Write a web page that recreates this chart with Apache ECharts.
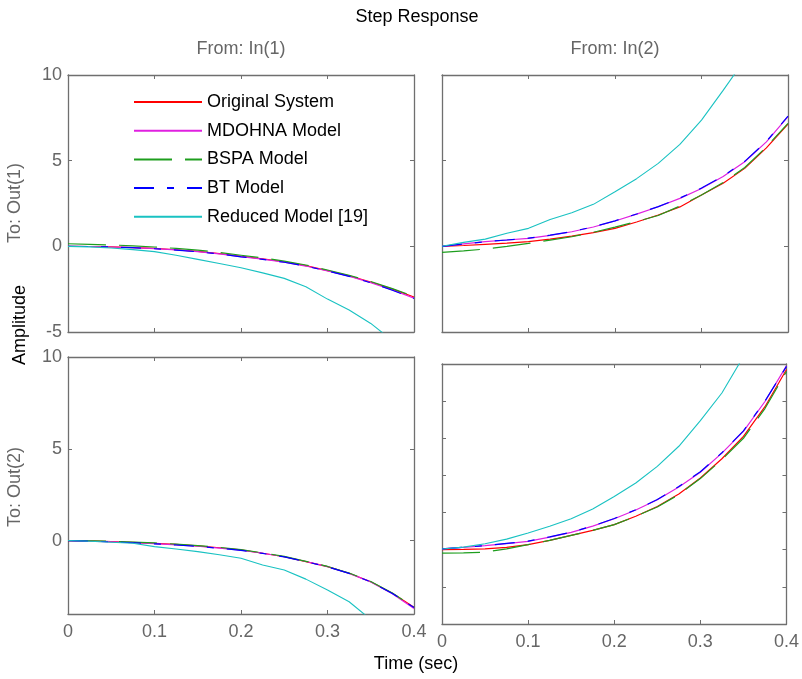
<!DOCTYPE html>
<html>
<head>
<meta charset="utf-8">
<script src="https://cdn.jsdelivr.net/npm/echarts@6/dist/echarts.min.js"></script>
<style>html,body{margin:0;padding:0;background:#fff;}#c{width:802px;height:679px;}</style>
</head>
<body>
<div id="c"></div>
<script>
// ---- data ----
const seriesNames = ['Original System', 'MDOHNA Model', 'BSPA Model', 'BT Model', 'Reduced Model [19]'];
const timeSec = [0, 0.025, 0.05, 0.075, 0.1, 0.125, 0.15, 0.175, 0.2, 0.225, 0.25, 0.275, 0.3, 0.325, 0.35, 0.375, 0.4];
const xTicks = [0, 0.1, 0.2, 0.3, 0.4];

// To: Out(1), From: In(1)
const o1i1Orig    = [0, -0.01, -0.03, -0.07, -0.12, -0.2, -0.29, -0.42, -0.58, -0.73, -0.9, -1.13, -1.42, -1.72, -2.08, -2.5, -2.96];
const o1i1Mdohna  = [0, -0.01, -0.04, -0.08, -0.13, -0.21, -0.31, -0.44, -0.6, -0.75, -0.92, -1.15, -1.43, -1.74, -2.12, -2.55, -3.02];
const o1i1Bspa    = [0.15, 0.12, 0.08, 0.03, -0.04, -0.12, -0.22, -0.36, -0.52, -0.68, -0.86, -1.09, -1.38, -1.69, -2.05, -2.47, -2.92];
const o1i1Bt      = [0, -0.01, -0.04, -0.08, -0.14, -0.22, -0.32, -0.45, -0.61, -0.76, -0.93, -1.16, -1.44, -1.75, -2.13, -2.56, -3.04];
const o1i1Reduced = [0, -0.03, -0.1, -0.19, -0.31, -0.52, -0.76, -1.0, -1.25, -1.55, -1.87, -2.36, -3.08, -3.72, -4.5, -5.5, -6.6];

// To: Out(1), From: In(2)
const o1i2Orig    = [0, 0.05, 0.12, 0.19, 0.27, 0.42, 0.6, 0.8, 1.05, 1.42, 1.83, 2.3, 3.0, 3.68, 4.55, 5.75, 7.14];
const o1i2Mdohna  = [0, 0.14, 0.27, 0.37, 0.47, 0.64, 0.85, 1.13, 1.48, 1.88, 2.31, 2.8, 3.38, 4.08, 4.94, 6.1, 7.57];
const o1i2Bspa    = [-0.35, -0.26, -0.16, 0.0, 0.17, 0.36, 0.56, 0.82, 1.12, 1.45, 1.8, 2.35, 3.0, 3.72, 4.6, 5.8, 7.18];
const o1i2Bt      = [0, 0.14, 0.27, 0.37, 0.48, 0.65, 0.86, 1.14, 1.49, 1.89, 2.32, 2.82, 3.4, 4.1, 4.96, 6.12, 7.6];
const o1i2Reduced = [0, 0.23, 0.42, 0.76, 1.05, 1.57, 1.96, 2.45, 3.19, 3.95, 4.84, 5.95, 7.37, 9.1, 10.9, 13.0, 15.5];

// To: Out(2), From: In(1)
const o2i1Orig    = [0, -0.02, -0.06, -0.1, -0.15, -0.21, -0.29, -0.39, -0.51, -0.69, -0.88, -1.15, -1.42, -1.78, -2.24, -2.87, -3.63];
const o2i1Mdohna  = [0, -0.03, -0.07, -0.11, -0.17, -0.23, -0.31, -0.41, -0.52, -0.69, -0.88, -1.14, -1.42, -1.79, -2.25, -2.9, -3.7];
const o2i1Bspa    = [0, -0.01, -0.04, -0.08, -0.13, -0.19, -0.27, -0.37, -0.49, -0.67, -0.86, -1.13, -1.41, -1.77, -2.23, -2.86, -3.62];
const o2i1Bt      = [0, -0.03, -0.07, -0.12, -0.18, -0.24, -0.32, -0.42, -0.53, -0.7, -0.89, -1.15, -1.43, -1.79, -2.25, -2.88, -3.65];
const o2i1Reduced = [0, -0.04, -0.09, -0.15, -0.33, -0.46, -0.6, -0.77, -0.96, -1.33, -1.6, -2.1, -2.69, -3.33, -4.3, -5.2, -6.2];

// To: Out(2), From: In(2)
const o2i2Orig    = [0, 0.02, 0.05, 0.13, 0.27, 0.5, 0.77, 1.04, 1.35, 1.8, 2.33, 3.0, 3.86, 4.9, 6.1, 7.7, 9.7];
const o2i2Mdohna  = [0.04, 0.13, 0.22, 0.33, 0.45, 0.68, 0.93, 1.27, 1.67, 2.14, 2.69, 3.38, 4.17, 5.2, 6.37, 7.98, 9.9];
const o2i2Bspa    = [-0.18, -0.17, -0.13, 0.05, 0.27, 0.5, 0.77, 1.04, 1.35, 1.8, 2.3, 2.97, 3.83, 4.85, 6.0, 7.6, 9.6];
const o2i2Bt      = [0.04, 0.13, 0.22, 0.34, 0.46, 0.69, 0.94, 1.28, 1.68, 2.15, 2.7, 3.4, 4.2, 5.22, 6.4, 8.0, 9.87];
const o2i2Reduced = [0.04, 0.14, 0.32, 0.57, 0.9, 1.26, 1.67, 2.19, 2.87, 3.59, 4.49, 5.57, 6.95, 8.44, 10.4, 12.5, 15.0];

// ---- chart ----
const FONT = '"Liberation Sans", Arial, Helvetica, sans-serif';
const AX = '#6f6f6f';
const LBL = '#666666';

const panels = [
  { grid: { left: 68, top: 75, width: 346, height: 257 }, ymin: -5, ymax: 10, yint: 5, ylab: true, xlab: false,
    data: [o1i1Orig, o1i1Mdohna, o1i1Bspa, o1i1Bt, o1i1Reduced] },
  { grid: { left: 442, top: 75, width: 346, height: 257 }, ymin: -5, ymax: 10, yint: 5, ylab: false, xlab: false,
    data: [o1i2Orig, o1i2Mdohna, o1i2Bspa, o1i2Bt, o1i2Reduced] },
  { grid: { left: 68, top: 357, width: 346, height: 257 }, ymin: -4, ymax: 10, yint: null, ylab: true, xlab: true,
    data: [o2i1Orig, o2i1Mdohna, o2i1Bspa, o2i1Bt, o2i1Reduced] },
  { grid: { left: 442, top: 364, width: 346, height: 260 }, ymin: -4, ymax: 10, yint: 2, ylab: false, xlab: true,
    data: [o2i2Orig, o2i2Mdohna, o2i2Bspa, o2i2Bt, o2i2Reduced] }
];

const styles = [
  { color: '#ff0000', type: 'solid', width: 1.2 },
  { color: '#e020e0', type: 'solid', width: 1.2 },
  { color: '#1e9e1e', type: [38, 13], width: 1.2 },
  { color: '#0000ff', type: [20, 13, 7, 13], width: 1.2 },
  { color: '#19c2c2', type: 'solid', width: 1.1 }
];

const grids = [], xAxes = [], yAxes = [], series = [];
panels.forEach((p, i) => {
  grids.push(Object.assign({ containLabel: false, show: false }, p.grid));
  const common = {
    axisLine: { show: true, onZero: false, lineStyle: { color: AX, width: 1.3 } },
    axisTick: { show: true, inside: true, length: 4, lineStyle: { color: AX, width: 1 } },
    splitLine: { show: false }
  };
  xAxes.push(Object.assign({}, common, {
    type: 'value', gridIndex: i, position: 'bottom', min: xTicks[0], max: xTicks[xTicks.length - 1], interval: 0.1,
    axisLabel: { show: p.xlab, color: LBL, fontSize: 18, fontFamily: FONT, margin: 9 }
  }));
  xAxes.push(Object.assign({}, common, {
    type: 'value', gridIndex: i, position: 'top', min: xTicks[0], max: xTicks[xTicks.length - 1], interval: 0.1,
    axisLabel: { show: false }
  }));
  const yBase = { type: 'value', gridIndex: i, min: p.ymin, max: p.ymax };
  if (p.yint) { yBase.interval = p.yint; } else { yBase.minInterval = 5; yBase.maxInterval = 5; }
  yAxes.push(Object.assign({}, common, yBase, {
    position: 'left',
    axisLabel: { show: p.ylab, color: LBL, fontSize: 18, fontFamily: FONT, margin: 6,
      formatter: v => (Math.abs(v % 5) < 1e-9 ? String(v) : '') }
  }));
  yAxes.push(Object.assign({}, common, yBase, { position: 'right', axisLabel: { show: false } }));
  p.data.forEach((arr, k) => {
    series.push({
      name: seriesNames[k], type: 'line', xAxisIndex: 2 * i, yAxisIndex: 2 * i,
      data: timeSec.map((t, j) => [t, arr[j]]),
      symbol: 'none', showSymbol: false, clip: true, silent: true, animation: false,
      lineStyle: { color: styles[k].color, type: styles[k].type, width: styles[k].width },
      itemStyle: { color: styles[k].color }
    });
  });
});

const txt = (text, x, y, opts) => Object.assign({
  type: 'text', x: x, y: y, silent: true,
  style: Object.assign({ text: text, fill: '#000', font: '18px ' + FONT, textAlign: 'center', textVerticalAlign: 'middle' }, (opts && opts.style) || {})
}, opts && opts.rotation ? { rotation: opts.rotation } : {});

const chart = echarts.init(document.getElementById('c'), null, { renderer: 'canvas' });
chart.setOption({
  backgroundColor: '#ffffff',
  animation: false,
  grid: grids,
  xAxis: xAxes,
  yAxis: yAxes,
  legend: {
    show: true, orient: 'vertical', left: 128, top: 88,
    itemWidth: 68, itemHeight: 14, itemGap: 10.7,
    data: seriesNames,
    itemStyle: { opacity: 0, color: 'transparent', borderWidth: 0 },
    textStyle: { color: '#000', fontSize: 18, fontFamily: FONT },
    selectedMode: false
  },
  graphic: [
    txt('Step Response', 417, 17),
    txt('From: In(1)', 241, 49, { style: { fill: LBL } }),
    txt('From: In(2)', 615, 49, { style: { fill: LBL } }),
    txt('To: Out(1)', 15, 203, { rotation: Math.PI / 2, style: { fill: LBL } }),
    txt('To: Out(2)', 15, 487, { rotation: Math.PI / 2, style: { fill: LBL } }),
    txt('Amplitude', 20, 325, { rotation: Math.PI / 2 }),
    txt('Time (sec)', 416, 664)
  ],
  series: series
});
</script>
</body>
</html>
